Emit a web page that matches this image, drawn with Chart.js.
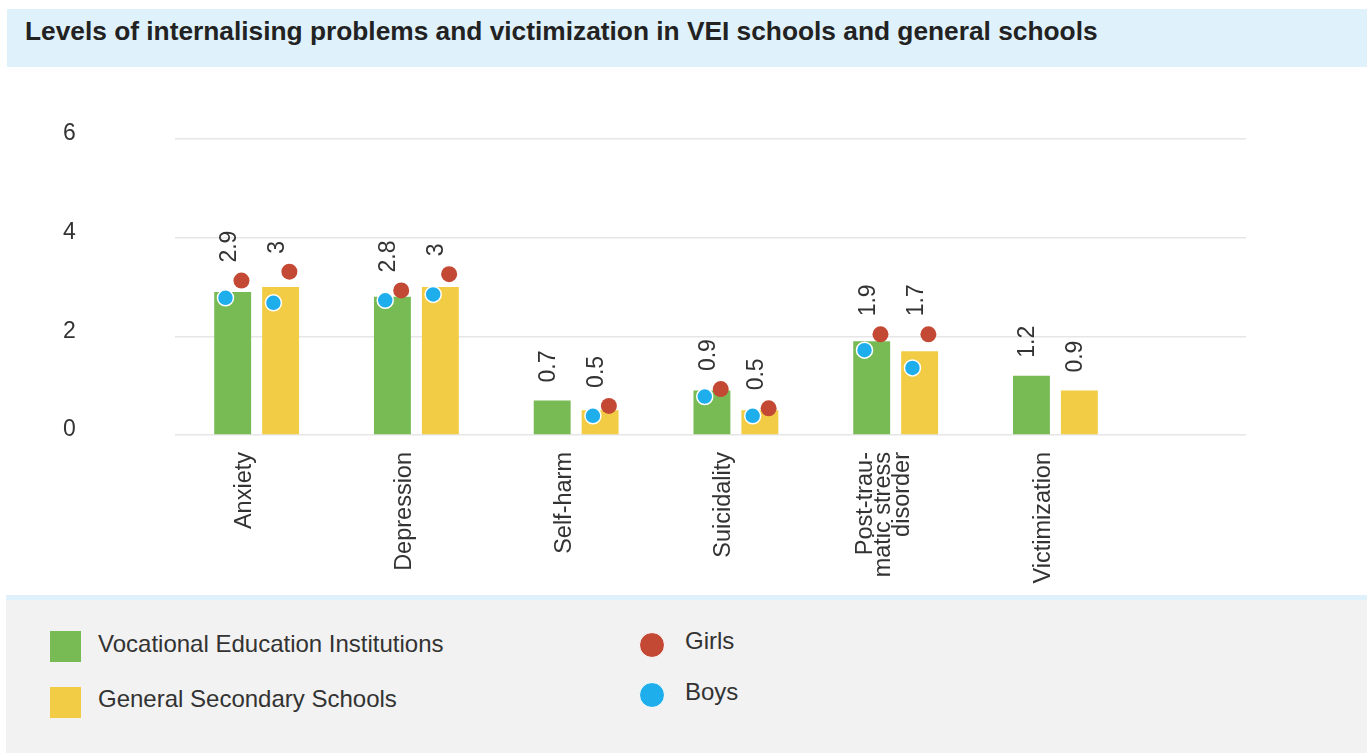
<!DOCTYPE html>
<html>
<head>
<meta charset="utf-8">
<title>Levels of internalising problems and victimization</title>
<script src="https://cdn.jsdelivr.net/npm/chart.js@4"></script>
<style>
  body { margin: 0; width: 1367px; height: 753px; background: #fff; position: relative; overflow: hidden;
         font-family: "Liberation Sans", Arial, sans-serif; color: #333; }
  .title { position: absolute; left: 7px; top: 9px; width: 1360px; height: 58px; background: #dff1fb; }
  .title h1 { position: absolute; left: 18px; top: 7px; margin: 0; font-size: 26.3px; line-height: 30px;
              font-weight: bold; color: #222; white-space: nowrap; }
  #chart-wrapper { position: absolute; left: 0; top: 67px; width: 1367px; height: 528px; }
  .legend { position: absolute; left: 6px; top: 595px; width: 1361px; height: 158px; background: #f2f2f2;
            border-top: 5px solid #dff1fb; box-sizing: border-box; }
  .item { position: absolute; height: 31px; }
  .item .sw { position: absolute; left: 0; top: 0; }
  .item .sq { width: 31px; height: 31px; }
  .item .dot { width: 26px; height: 26px; border-radius: 50%; box-sizing: border-box; }
  .item span.txt { position: absolute; line-height: 31px; font-size: 24px; white-space: nowrap; color: #333; }
</style>
</head>
<body>
<div class="title"><h1>Levels of internalising problems and victimization in VEI schools and general schools</h1></div>
<div id="chart-wrapper"><canvas id="levelsChart" width="1367" height="528"></canvas></div>
<div class="legend" id="legend"></div>
<script>
// Categories on the x axis (arrays become multi-line labels)
const categories = ['Anxiety', 'Depression', 'Self-harm', 'Suicidality',
                    ['Post-trau-', 'matic stress', 'disorder'], 'Victimization'];
const seriesNames = ['Vocational Education Institutions', 'General Secondary Schools'];
const genderNames = ['Girls', 'Boys'];

// Mean levels per school type
const veiValues = [2.9, 2.8, 0.7, 0.9, 1.9, 1.2];
const generalValues = [3, 3, 0.5, 0.5, 1.7, 0.9];

// Means split by gender (null = not reported)
const veiGirls = [3.13, 2.93, null, 0.93, 2.04, null];
const veiBoys = [2.78, 2.73, null, 0.78, 1.72, null];
const generalGirls = [3.31, 3.26, 0.59, 0.54, 2.04, null];
const generalBoys = [2.68, 2.85, 0.39, 0.39, 1.36, null];

const yTicks = [0, 2, 4, 6];

const COLORS = { vei: '#78bb54', general: '#f2cc44', girls: '#c44935', boys: '#1faeec' };
const FONT = '"Liberation Sans", Arial, sans-serif';

// offsets (in category units) of each bar centre and of the gender dots around it
const BAR_SHIFT = 0.15;
const BOY_SHIFT = -0.045;
const GIRL_SHIFT = 0.055;

const toPoints = (values, shift) => values
  .map((v, i) => (v == null ? null : { x: i + shift, y: v }))
  .filter(Boolean);

const dot = (label, values, shift, color, border) => ({
  type: 'scatter',
  label,
  data: toPoints(values, shift),
  backgroundColor: color,
  borderColor: border,
  borderWidth: border === '#fff' ? 1.5 : 0,
  pointRadius: 8,
  pointHoverRadius: 8,
  order: label === 'Boys' ? 1 : 2
});

// Value labels, rotated, above the bar (or above its dots)
const valueLabels = {
  id: 'valueLabels',
  afterDatasetsDraw(chart) {
    const { ctx } = chart;
    const yScale = chart.scales.y;
    ctx.save();
    ctx.font = '23px ' + FONT;
    ctx.fillStyle = '#333';
    ctx.textAlign = 'left';
    ctx.textBaseline = 'alphabetic';
    [[0, veiGirls, veiBoys], [1, generalGirls, generalBoys]].forEach(([di, girls, boys]) => {
      const values = chart.data.datasets[di].data;
      chart.getDatasetMeta(di).data.forEach((bar, i) => {
        let top = bar.y - 18;
        [girls[i], boys[i]].forEach(v => {
          if (v != null) top = Math.min(top, yScale.getPixelForValue(v) - 18);
        });
        ctx.save();
        ctx.translate(bar.x + 3, top);
        ctx.rotate(-Math.PI / 2);
        ctx.fillText(String(values[i].y), 0, 0);
        ctx.restore();
      });
    });
    ctx.restore();
  }
};

// Category names, rotated and centred on each group (multi-line blocks included)
const categoryLabels = {
  id: 'categoryLabels',
  afterDraw(chart) {
    const { ctx } = chart;
    const xScale = chart.scales.x;
    const lineH = 18.5;
    ctx.save();
    ctx.font = '23.5px ' + FONT;
    ctx.fillStyle = '#333';
    ctx.textAlign = 'right';
    ctx.textBaseline = 'middle';
    categories.forEach((cat, i) => {
      const lines = Array.isArray(cat) ? cat : [cat];
      const cx = xScale.getPixelForValue(i) - 12;
      lines.forEach((line, k) => {
        ctx.save();
        ctx.translate(cx + (k - (lines.length - 1) / 2) * lineH, xScale.top + 17);
        ctx.rotate(-Math.PI / 2);
        ctx.fillText(line, 0, 0);
        ctx.restore();
      });
    });
    ctx.restore();
  }
};

const chart = new Chart(document.getElementById('levelsChart'), {
  type: 'bar',
  data: {
    datasets: [
      { label: seriesNames[0], data: veiValues.map((v, i) => ({ x: i, y: v })),
        backgroundColor: COLORS.vei, order: 3 },
      { label: seriesNames[1], data: generalValues.map((v, i) => ({ x: i, y: v })),
        backgroundColor: COLORS.general, order: 3 },
      dot(genderNames[0], veiGirls, -BAR_SHIFT + GIRL_SHIFT, COLORS.girls, COLORS.girls),
      dot(genderNames[1], veiBoys, -BAR_SHIFT + BOY_SHIFT, COLORS.boys, '#fff'),
      dot(genderNames[0], generalGirls, BAR_SHIFT + GIRL_SHIFT, COLORS.girls, COLORS.girls),
      dot(genderNames[1], generalBoys, BAR_SHIFT + BOY_SHIFT, COLORS.boys, '#fff')
    ]
  },
  options: {
    responsive: false,
    animation: false,
    events: [],
    categoryPercentage: 0.6,
    barPercentage: 0.77,
    layout: { padding: { top: 72, right: 121, bottom: 0, left: 63 } },
    plugins: { legend: { display: false }, tooltip: { enabled: false } },
    scales: {
      x: {
        type: 'linear',
        offset: false,
        min: -0.511,
        max: 6.193,
        afterBuildTicks: s => { s.ticks = categories.map((_, i) => ({ value: i })); },
        afterFit: s => { s.height = 160; },
        grid: { display: false, drawTicks: false, offset: false },
        border: { display: false },
        ticks: { display: false }
      },
      y: {
        min: 0,
        max: 6,
        afterBuildTicks: s => { s.ticks = yTicks.map(v => ({ value: v })); },
        afterFit: s => { s.width = 112; },
        grid: { color: '#e6e6e6', lineWidth: 1.5, drawTicks: false },
        border: { display: false },
        ticks: { crossAlign: 'far', padding: 4, labelOffset: -5, color: '#333',
                 font: { family: FONT, size: 23 } }
      }
    }
  },
  plugins: [valueLabels, categoryLabels]
});

// HTML legend built from the same names and colours
const legendItems = [
  { name: seriesNames[0], color: COLORS.vei, shape: 'sq', left: 44, top: 31, gap: 48, dy: -3 },
  { name: seriesNames[1], color: COLORS.general, shape: 'sq', left: 44, top: 87, gap: 48, dy: -4 },
  { name: genderNames[0], color: COLORS.girls, shape: 'dot', left: 633, top: 32, gap: 46, dy: -7 },
  { name: genderNames[1], color: COLORS.boys, shape: 'dot', left: 633, top: 82, gap: 46, dy: -6 }
];
const legendEl = document.getElementById('legend');
legendItems.forEach(it => {
  const div = document.createElement('div');
  div.className = 'item';
  div.style.left = it.left + 'px';
  div.style.top = it.top + 'px';
  const sw = document.createElement('div');
  sw.className = 'sw ' + it.shape;
  sw.style.background = it.color;
  if (it.shape === 'dot') sw.style.border = '1.5px solid #fff';
  const txt = document.createElement('span');
  txt.className = 'txt';
  txt.style.left = it.gap + 'px';
  txt.style.top = it.dy + 'px';
  txt.textContent = it.name;
  div.appendChild(sw);
  div.appendChild(txt);
  legendEl.appendChild(div);
});
</script>
</body>
</html>
